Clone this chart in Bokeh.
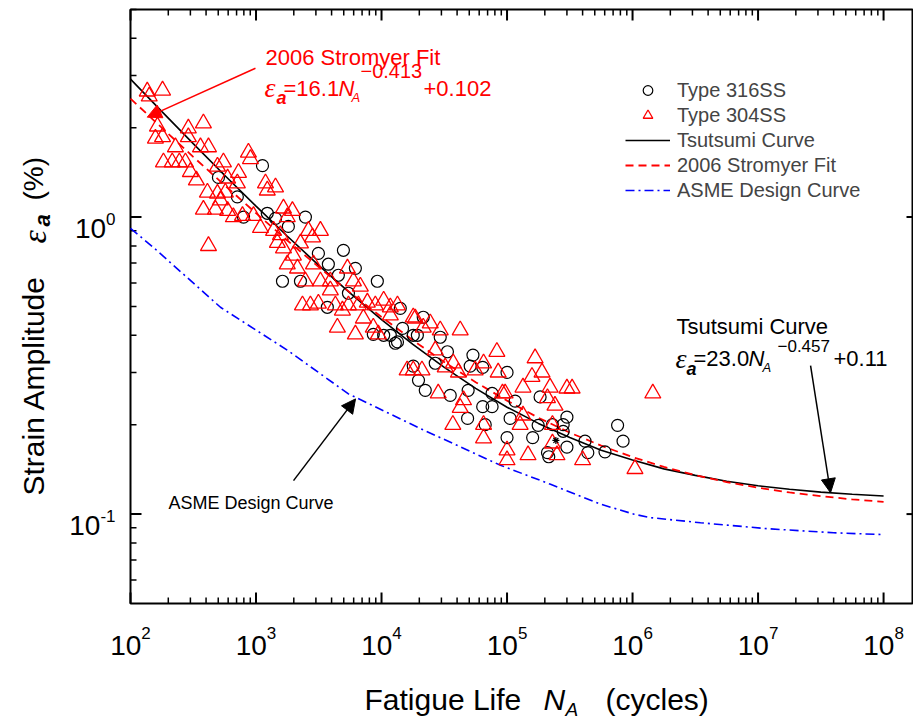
import numpy as np
from bokeh.plotting import figure
from bokeh.models import Label, Arrow, NormalHead, Legend, LegendItem, Range1d
from bokeh.embed import file_html
from bokeh.resources import INLINE

# ---------------- data ----------------
n_304 = [136, 141, 180, 164, 158, 180, 289, 289, 381, 228, 361, 418, 183, 215, 245, 274,
         300, 335, 870, 903, 493, 550, 594, 725, 710, 1190, 1230, 1430, 418, 410, 493, 570,
         520, 381, 475, 594, 660, 780, 955, 1085, 1655, 1950, 1775, 1380, 1565, 1480, 1655,
         1985, 1775, 2140, 2615, 2820, 3260, 2260, 2870, 2475, 3260, 3910, 5350, 3910, 5970,
         6780, 2345, 2713, 3140, 4290, 4880, 5450, 6540, 4450, 6190, 7170, 8600, 9430, 7710,
         8925, 10400, 11750, 13400, 17900, 16000, 17900, 11750, 18570, 21500, 24450, 29360,
         42350, 26790, 32180, 37300, 41000, 21000, 55740, 65000, 85000, 83000, 167300,
         190000, 158000, 134000, 220000, 300000, 330000, 92000, 96600, 28300, 45000, 42350,
         210000, 241000, 134000, 127100, 37000, 65000, 65000, 100000, 100000, 147000, 230000,
         250000, 400000, 230000, 1450000, 1045000]
e_304 = [2.65, 2.55, 2.67, 2.02, 1.84, 1.86, 1.99, 1.86, 2.07, 1.72, 1.72, 1.72, 1.53, 1.53,
         1.53, 1.53, 1.42, 1.33, 1.65, 1.57, 1.48, 1.53, 1.35, 1.41, 1.30, 1.30, 1.23, 1.26,
         0.80, 1.21, 1.20, 1.21, 1.14, 1.06, 1.06, 1.05, 1.00, 1.01, 1.01, 0.92, 1.07, 1.05,
         1.00, 0.90, 0.87, 0.82, 0.785, 0.743, 0.694, 0.672, 0.90, 0.855, 0.90, 0.816, 0.694,
         0.608, 0.608, 0.608, 0.672, 0.567, 0.608, 0.584, 0.505, 0.505, 0.512, 0.505, 0.485,
         0.505, 0.505, 0.425, 0.403, 0.456, 0.425, 0.403, 0.516, 0.505, 0.524, 0.497, 0.505,
         0.46, 0.305, 0.305, 0.467, 0.456, 0.425, 0.439, 0.416, 0.416, 0.356, 0.312, 0.322,
         0.30, 0.305, 0.305, 0.322, 0.30, 0.352, 0.335, 0.30, 0.29, 0.267, 0.267, 0.265,
         0.265, 0.255, 0.255, 0.255, 0.242, 0.228, 0.246, 0.232, 0.215, 0.20, 0.20, 0.20,
         0.18, 0.164, 0.152, 0.158, 0.173, 0.158, 0.152, 0.20, 0.255, 0.142]

n_316 = [1126, 502, 710, 795, 1230, 1430, 1810, 2475, 1625, 2260, 3140, 3770, 4970, 6190,
         9260, 4530, 5450, 3700, 8600, 10400, 13400, 14700, 19300, 19700, 17900, 14110,
         21500, 11750, 17900, 29360, 12880, 26790, 33500, 53500, 22310, 35260, 49000, 50870,
         64000, 100000, 76000, 64000, 76000, 116000, 105800, 183400, 48500, 67000, 100000,
         160000, 177000, 230000, 280000, 300000, 210000, 300000, 418000, 440000, 603000,
         760000, 840000, 215000, 280000]
e_316 = [1.49, 1.36, 1.17, 1.00, 1.03, 0.99, 0.93, 1.00, 0.608, 0.608, 0.755, 0.694, 0.773,
         0.672, 0.608, 0.637, 0.554, 0.497, 0.403, 0.40, 0.38, 0.422, 0.40, 0.282, 0.315,
         0.493, 0.46, 0.40, 0.40, 0.394, 0.376, 0.322, 0.352, 0.343, 0.261, 0.251, 0.261,
         0.315, 0.312, 0.30, 0.255, 0.23, 0.23, 0.24, 0.21, 0.248, 0.21, 0.20, 0.181, 0.181,
         0.199, 0.20, 0.20, 0.212, 0.161, 0.168, 0.176, 0.161, 0.162, 0.199, 0.176, 0.156,
         0.19]

n_star = [245000]
e_star = [0.177]

curve_n = [100, 178, 316, 562, 1000, 1778, 3162, 5623, 10000, 17783, 31623, 56234, 1e5,
           177828, 316228, 562341, 1e6, 1778279, 3162278, 5623413, 1e7, 17782794, 31622777,
           56234133, 1e8]
tsutsumi = [2.914, 2.265, 1.767, 1.383, 1.089, 0.862, 0.688, 0.555, 0.452, 0.373, 0.312,
            0.265, 0.229, 0.202, 0.181, 0.164, 0.152, 0.142, 0.135, 0.129, 0.1245, 0.1212,
            0.1186, 0.1166, 0.1151]
stromyer = [2.505, 1.997, 1.596, 1.280, 1.031, 0.834, 0.679, 0.557, 0.461, 0.385, 0.325,
            0.278, 0.241, 0.211, 0.188, 0.170, 0.1556, 0.1442, 0.1353, 0.1282, 0.1227, 0.1183,
            0.1149, 0.1121, 0.1100]

asme_n = [100, 152, 521, 1782, 5450, 20470, 88700, 222000, 556000, 1.02e6, 1.39e6, 3.48e6,
          1.19e7, 4.0e7, 1e8]
asme = [0.916, 0.791, 0.497, 0.356, 0.254, 0.194, 0.146, 0.126, 0.108, 0.100, 0.0973,
        0.0935, 0.0893, 0.0865, 0.0853]

x_major = [1e2, 1e3, 1e4, 1e5, 1e6, 1e7, 1e8]
x_exp = ["2", "3", "4", "5", "6", "7", "8"]
y_major = [0.1, 1.0]
y_exp = ["-1", "0"]
x_minor = [m * 10.0 ** k for k in range(2, 8) for m in range(2, 10)]
y_minor = [m * 10.0 ** k for k in range(-2, 1) for m in range(2, 10)
           if 0.05 < m * 10.0 ** k < 5.01]
X0, X1 = 100, 1.70e8      # visible axis limits
Y0, Y1 = 0.05, 5.0

# ---------------- layout: the frame is the whole canvas ----------------
WIDTH, HEIGHT = 913, 720
BL, BR, BT, BB = 130, 912, 9, 603          # drawn box, page pixels
ppx = (BR - BL) / (np.log10(X1) - np.log10(X0))
ppy = (BB - BT) / (np.log10(Y1) - np.log10(Y0))
xr = Range1d(10 ** (np.log10(X0) - BL / ppx), 10 ** (np.log10(X1) + (WIDTH - BR) / ppx))
yr = Range1d(10 ** (np.log10(Y0) - (HEIGHT - BB) / ppy), 10 ** (np.log10(Y1) + BT / ppy))

p = figure(width=WIDTH, height=HEIGHT, x_axis_type="log", y_axis_type="log",
           x_range=xr, y_range=yr, x_axis_location=None, y_axis_location=None,
           output_backend="svg", toolbar_location=None,
           min_border=0, min_border_left=0, min_border_right=0,
           min_border_top=0, min_border_bottom=0)
p.grid.visible = False
p.outline_line_color = None
p.background_fill_color = "white"
p.border_fill_color = "white"

# box and ticks (drawn from the axis limits and tick arrays)
p.quad(left=[X0], right=[X1], bottom=[Y0], top=[Y1], fill_color=None,
       line_color="black", line_width=2)
HP = np.pi / 2
for ticks, ln, lw in ((x_major, 11, 2), (x_minor, 6, 1.5)):
    p.ray(x=ticks, y=[Y0] * len(ticks), length=ln, length_units="screen", angle=HP,
          line_color="black", line_width=lw)
    p.ray(x=ticks, y=[Y1] * len(ticks), length=ln, length_units="screen", angle=-HP,
          line_color="black", line_width=lw)
for ticks, ln, lw in ((y_major, 11, 2), (y_minor, 6, 1.5)):
    p.ray(x=[X0] * len(ticks), y=ticks, length=ln, length_units="screen", angle=0,
          line_color="black", line_width=lw)
p.ray(x=[X1] * len(y_major), y=y_major, length=6, length_units="screen", angle=np.pi,
      line_color="black", line_width=2)

# curves
r_ts = p.line(curve_n, tsutsumi, line_color="black", line_width=1.6)
r_st = p.line(curve_n, stromyer, line_color="#ff0000", line_width=1.8, line_dash="8 5")
r_as = p.line(asme_n, asme, line_color="#0000ff", line_width=1.6, line_dash="9 4 2 4")

# scatter
r316 = p.scatter(n_316, e_316, marker="circle", size=12, fill_color=None,
                 line_color="black", line_width=1.2)
r304 = p.scatter(n_304, e_304, marker="triangle", size=16, fill_color=None,
                 line_color="#ff0000", line_width=1.3)
p.scatter(n_star, e_star, marker="asterisk", size=7, line_color="black", line_width=1.2)

legend = Legend(items=[LegendItem(label="Type 316SS", renderers=[r316]),
                       LegendItem(label="Type 304SS", renderers=[r304]),
                       LegendItem(label="Tsutsumi Curve", renderers=[r_ts]),
                       LegendItem(label="2006 Stromyer Fit", renderers=[r_st]),
                       LegendItem(label="ASME Design Curve", renderers=[r_as])],
                location=(625, HEIGHT - 202), orientation="vertical",
                label_text_font="Liberation Sans", label_text_font_size="20px",
                glyph_width=45, glyph_height=24, label_height=24, spacing=1,
                padding=0, margin=0, label_standoff=7,
                border_line_color=None, background_fill_alpha=0)
p.add_layout(legend)

FONT = "Liberation Sans"
W = {"0": .556, "1": .556, "2": .556, "3": .556, "4": .556, "5": .556, "6": .556,
     "7": .556, "8": .556, "9": .556, "-": .333}


def tw(s, size):
    return sum(W[c] for c in s) * size


def put(text, X, Y, size, color="black", style="normal", font=FONT, angle=0.0,
        align="left", baseline="alphabetic"):
    p.add_layout(Label(x=X, y=HEIGHT - Y, x_units="screen", y_units="screen",
                       text=text, text_font=font, text_font_size=f"{size}px",
                       text_font_style=style, text_color=color, text_align=align,
                       text_baseline=baseline, angle=angle))


# tick labels (text glyphs anchored at the tick values)
w10 = tw("10", 28)
xw = [w10 + tw(e, 17) for e in x_exp]
p.text(x=x_major, y=[Y0] * len(x_major), text=["10"] * len(x_major),
       x_offset=[-w / 2 for w in xw], y_offset=42, text_font_size="28px",
       text_font={"value": FONT}, text_baseline="alphabetic", text_align="left",
       text_color="black")
p.text(x=x_major, y=[Y0] * len(x_major), text=x_exp,
       x_offset=[-w / 2 + w10 for w in xw], y_offset=29, text_font_size="17px",
       text_font={"value": FONT}, text_baseline="alphabetic", text_align="left",
       text_color="black")
p.text(x=[X0] * len(y_major), y=y_major, text=["10"] * len(y_major),
       x_offset=[-15 - tw(e, 17) for e in y_exp], y_offset=11, text_font_size="28px",
       text_font={"value": FONT}, text_baseline="alphabetic", text_align="right",
       text_color="black")
p.text(x=[X0] * len(y_major), y=y_major, text=y_exp, x_offset=-15, y_offset=2,
       text_font_size="17px", text_font={"value": FONT}, text_baseline="alphabetic",
       text_align="right", text_color="black")

# axis titles
put("Fatigue Life", 364, 699, 30)
put("N", 543, 699, 30, style="italic")
put("A", 565, 709, 19, style="italic")
put("(cycles)", 605, 699, 30)

put("Strain Amplitude", 33, 495, 30, angle=HP)
put("\u03b5", 34, 243, 34, style="italic", font="Liberation Serif", angle=HP)
put("a", 42, 226, 22, style="bold italic", angle=HP)
put("(%)", 33, 200, 28, angle=HP)

# annotations
RED = "#ff0000"
put("2006 Stromyer Fit", 265, 57, 22, color=RED)
put("\u03b5", 264, 87, 28, color=RED, style="italic", font="Liberation Serif")
put("a", 276, 97, 18, color=RED, style="bold italic")
put("=16.1", 283, 88, 22, color=RED)
put("N", 338, 88, 22, color=RED, style="italic")
put("A", 351, 97, 13, color=RED, style="italic")
put("\u22120.413", 360, 70, 20, color=RED)
put("+0.102", 423, 88, 22, color=RED)

put("Tsutsumi Curve", 676, 326, 22)
put("\u03b5", 675, 358, 28, style="italic", font="Liberation Serif")
put("a", 686, 368, 18, style="bold italic")
put("=23.0", 693, 358, 22)
put("N", 748, 358, 22, style="italic")
put("A", 762, 367, 13, style="italic")
put("\u22120.457", 777, 345, 17)
put("+0.11", 833, 358, 22)

put("ASME Design Curve", 168, 502, 18)

p.add_layout(Arrow(end=NormalHead(size=14, fill_color=RED, line_color=RED),
                   x_start=990, y_start=3.17, x_end=136, y_end=2.17,
                   line_color=RED, line_width=1.5))
p.add_layout(Arrow(end=NormalHead(size=14, fill_color="black", line_color="black"),
                   x_start=2.62e7, y_start=0.316, x_end=3.78e7, y_end=0.118,
                   line_color="black", line_width=1.5))
p.add_layout(Arrow(end=NormalHead(size=14, fill_color="black", line_color="black"),
                   x_start=1990, y_start=0.1296, x_end=6209, y_end=0.2443,
                   line_color="black", line_width=1.5))

open("out.html", "w").write(file_html(p, INLINE))
